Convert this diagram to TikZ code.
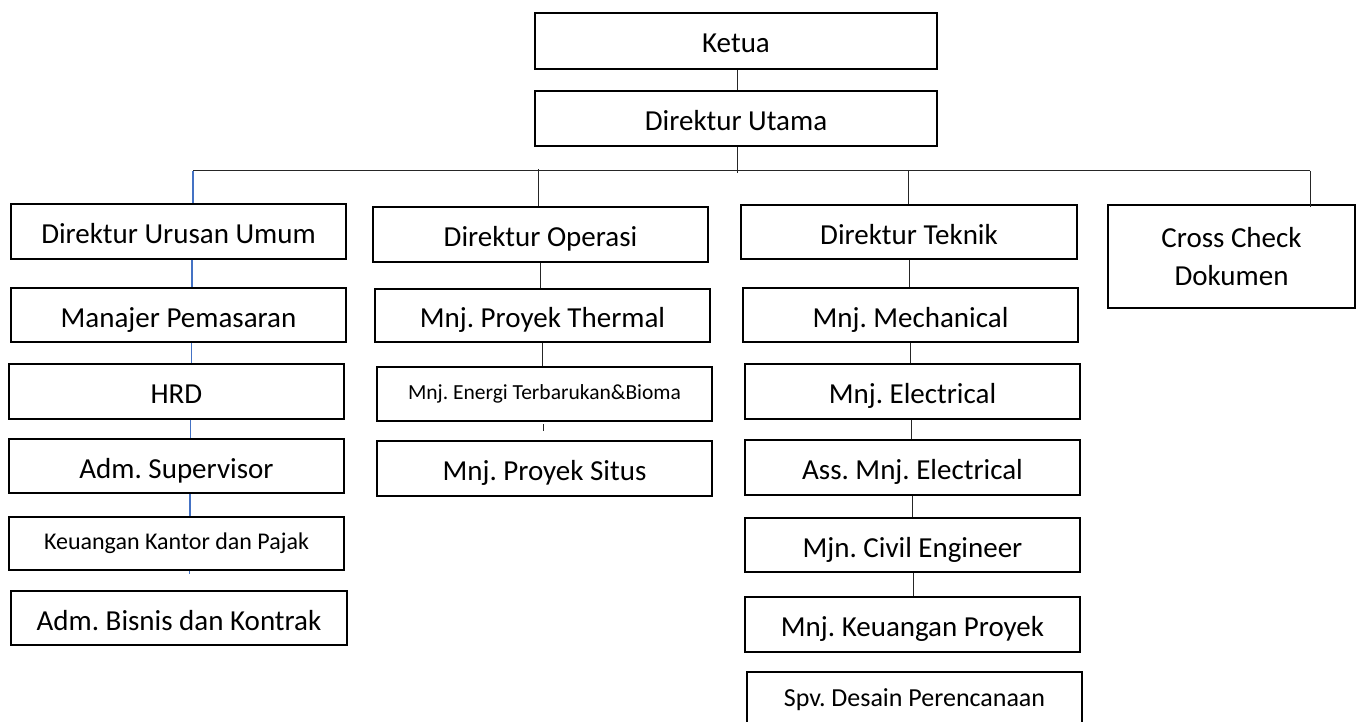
\documentclass[tikz,border=0pt]{standalone}
\usepackage{fontspec}
\setmainfont{Carlito}
\definecolor{lnblue}{HTML}{4472C4}
\begin{document}
\frenchspacing
\begin{tikzpicture}[x=1pt,y=-1pt,
  box/.style={draw=black, line width=2.8pt, rectangle, inner sep=0pt,
    font=\fontsize{29}{38}\selectfont, text height=27pt, text depth=3pt},
  smallbox/.style={draw=black, line width=2.8pt, rectangle, inner sep=0pt},
  conn/.style={draw=black!85, line width=1pt},
  bconn/.style={draw=lnblue, line width=1.3pt}]
\useasboundingbox (0,0) rectangle (1356,722);

% top
\node[box, minimum width=402pt, minimum height=56pt] (ketua) at (736,41) {Ketua};
\node[box, minimum width=402pt, minimum height=55pt] (dutama) at (736,118.5) {Direktur Utama};

% column 1
\node[box, minimum width=335pt, minimum height=55pt] (c1a) at (178.5,231.5) {Direktur Urusan Umum};
\node[box, minimum width=335pt, minimum height=54pt] (c1b) at (178.5,315) {Manajer Pemasaran};
\node[box, minimum width=335pt, minimum height=55pt] (c1c) at (176.5,391.5) {HRD};
\node[box, minimum width=335pt, minimum height=54pt] (c1d) at (176.5,466) {Adm. Supervisor};
\node[smallbox, minimum width=335pt, minimum height=53pt, font=\fontsize{24}{29}\selectfont] (c1e) at (176.5,543.5) {Keuangan Kantor dan Pajak};
\node[box, minimum width=336pt, minimum height=54pt] (c1f) at (179,618) {Adm. Bisnis dan Kontrak};

% column 2
\node[box, minimum width=335pt, minimum height=55pt] (c2a) at (540.5,234.5) {Direktur Operasi};
\node[box, minimum width=335pt, minimum height=53pt] (c2b) at (542.5,315.5) {Mnj. Proyek Thermal};
\node[smallbox, minimum width=335pt, minimum height=54pt, font=\fontsize{21.5}{26}\selectfont] (c2c) at (544.5,394) {Mnj. Energi Terbarukan\&Bioma};
\node[box, minimum width=335pt, minimum height=55pt] (c2d) at (544.5,468.5) {Mnj. Proyek Situs};

% column 3
\node[box, minimum width=336pt, minimum height=54pt] (c3a) at (909,232) {Direktur Teknik};
\node[box, minimum width=335pt, minimum height=54pt] (c3b) at (910.5,315) {Mnj. Mechanical};
\node[box, minimum width=335pt, minimum height=55pt] (c3c) at (912.5,391.5) {Mnj. Electrical};
\node[box, minimum width=335pt, minimum height=55pt] (c3d) at (912.5,467.5) {Ass. Mnj. Electrical};
\node[box, minimum width=335pt, minimum height=54pt] (c3e) at (912.5,545) {Mjn. Civil Engineer};
\node[box, minimum width=335pt, minimum height=55pt] (c3f) at (912.5,624.5) {Mnj. Keuangan Proyek};
\node[smallbox, minimum width=335pt, minimum height=55pt, font=\fontsize{26}{31}\selectfont] (c3g) at (914.5,699.5) {Spv. Desain Perencanaan};

% column 4
\node[smallbox, minimum width=247pt, minimum height=103pt, align=center, font=\fontsize{29}{38}\selectfont] (cc) at (1231.5,256.5) {Cross Check\\Dokumen};

% bus coordinates
\coordinate (bus) at (737,173);
\coordinate (h1) at (193,171);
\coordinate (h2) at (538,169);
\coordinate (h3) at (908,171);
\coordinate (h4) at (1310,171);

% top connectors
\draw[conn] ([xshift=1pt]ketua.south) -- ([xshift=1pt]dutama.north);
\draw[conn] ([xshift=1pt]dutama.south) -- (bus);
\draw[conn] (h1) -- (h4);

% column drops
\draw[bconn] (h1) -- (h1 |- c1a.north);
\draw[conn] (h2) -- (h2 |- c2a.north);
\draw[conn] (h3) -- (h3 |- c3a.north);
\draw[conn] (h4) -- ([yshift=-3pt]h4 |- cc.north);

% column 1 links
\draw[bconn] ([xshift=13.5pt]c1a.south) -- ([xshift=13.5pt]c1a.south |- c1b.north);
\draw[bconn] ([xshift=13pt]c1b.south) -- ([xshift=13pt]c1b.south |- c1c.north);
\draw[bconn] ([xshift=14pt]c1c.south) -- ([xshift=14pt]c1c.south |- c1d.north);
\draw[bconn] ([xshift=13.5pt]c1d.south) -- ([xshift=13.5pt]c1d.south |- c1e.north);
\draw[bconn] ([xshift=13pt]c1e.south) -- ++(0,3);

% column 2 links
\draw[conn] ([xshift=0pt]c2a.south) -- ([xshift=0pt]c2a.south |- c2b.north);
\draw[conn] ([xshift=-0.5pt]c2b.south) -- ([xshift=-0.5pt]c2b.south |- c2c.north);
\draw[conn] ([xshift=-1.5pt,yshift=-2pt]c2c.south) -- ++(0,7);

% column 3 links
\draw[conn] (c3a.south) -- (c3a.south |- c3b.north);
\draw[conn] ([xshift=-0.5pt]c3b.south) -- ([xshift=-0.5pt]c3b.south |- c3c.north);
\draw[conn] ([xshift=-1.5pt]c3c.south) -- ([xshift=-1.5pt]c3c.south |- c3d.north);
\draw[conn] ([xshift=-0.5pt]c3d.south) -- ([xshift=-0.5pt]c3d.south |- c3e.north);
\draw[conn] ([xshift=0.5pt]c3e.south) -- ([xshift=0.5pt]c3e.south |- c3f.north);
\end{tikzpicture}
\end{document}
